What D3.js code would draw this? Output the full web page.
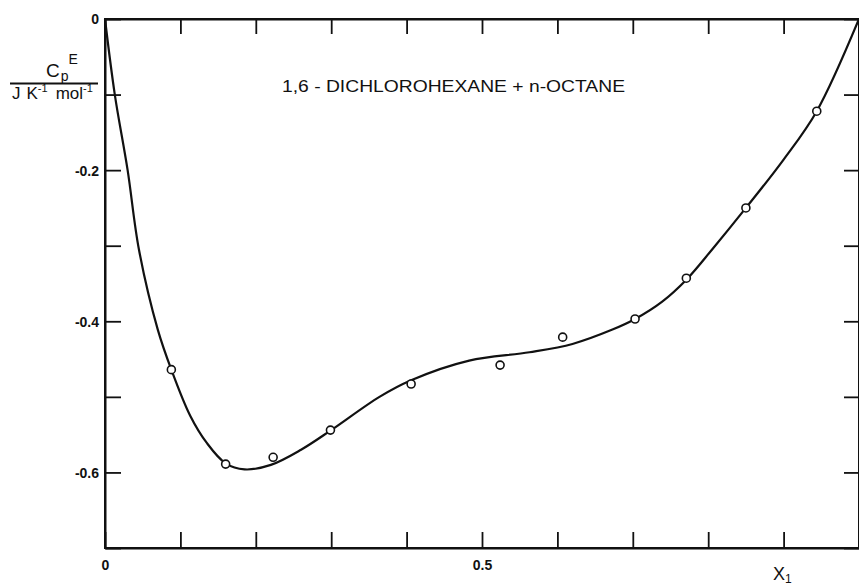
<!DOCTYPE html>
<html>
<head>
<meta charset="utf-8">
<script src="https://cdn.jsdelivr.net/npm/d3@7"></script>
<style>
  html, body { margin: 0; padding: 0; background: #fff; }
  svg { display: block; }
  text { font-family: "Liberation Sans Narrow", "Liberation Sans", Arial, sans-serif; fill: #111; }
</style>
</head>
<body>
<svg id="chart" width="859" height="585"></svg>
<script>
// ---- data ----
const titleText = "1,6 - DICHLOROHEXANE + n-OCTANE";
const xTickValues = [0, 0.1, 0.2, 0.3, 0.4, 0.5, 0.6, 0.7, 0.8, 0.9, 1.0];
const xTickLabels = {"0": "0", "0.5": "0.5"};
const yTickValues = [0, -0.1, -0.2, -0.3, -0.4, -0.5, -0.6, -0.7];
const yTickLabels = {"0": "0", "-0.2": "-0.2", "-0.4": "-0.4", "-0.6": "-0.6"};

// measured points (open circles)
const pointX = [0.088, 0.160, 0.223, 0.299, 0.406, 0.524, 0.607, 0.703, 0.771, 0.850, 0.944];
const pointY = [-0.464, -0.589, -0.580, -0.544, -0.483, -0.458, -0.421, -0.397, -0.343, -0.250, -0.122];

// smoothed fitted curve
const curveX = [0, 0.013, 0.030, 0.045, 0.070, 0.088, 0.113, 0.135, 0.160, 0.185, 0.220, 0.260, 0.300, 0.364, 0.406, 0.483, 0.563, 0.620, 0.673, 0.703, 0.739, 0.771, 0.806, 0.850, 0.900, 0.944, 1.0];
const curveY = [0, -0.10, -0.20, -0.305, -0.411, -0.464, -0.525, -0.561, -0.588, -0.596, -0.590, -0.570, -0.544, -0.500, -0.478, -0.452, -0.441, -0.430, -0.411, -0.397, -0.374, -0.345, -0.304, -0.250, -0.186, -0.122, 0];

// ---- layout ----
const svg = d3.select("#chart");
const x = d3.scaleLinear().domain([0, 1]).range([105, 859]);
const y = d3.scaleLinear().domain([0, -0.7]).range([19, 548]);

const fmtX = d => { const k = String(+d.toFixed(1)); return xTickLabels[k] || ""; };
const fmtY = d => { const k = String(+d.toFixed(1)); return yTickLabels[k] || ""; };

// Frame
svg.append("rect")
  .attr("x", x(0)).attr("y", y(0))
  .attr("width", x(1) - x(0)).attr("height", y(-0.7) - y(0))
  .attr("fill", "none").attr("stroke", "#111").attr("stroke-width", 2);

// Bottom axis (inward ticks)
const gB = svg.append("g").attr("transform", `translate(0,${y(-0.7)})`)
  .call(d3.axisBottom(x).tickValues(xTickValues).tickSize(-16).tickSizeOuter(0).tickPadding(8).tickFormat(fmtX));
// Top axis
const gT = svg.append("g").attr("transform", `translate(0,${y(0)})`)
  .call(d3.axisTop(x).tickValues(xTickValues).tickSize(-15).tickSizeOuter(0).tickFormat(""));
// Left axis
const gL = svg.append("g").attr("transform", `translate(${x(0)},0)`)
  .call(d3.axisLeft(y).tickValues(yTickValues).tickSize(-16).tickSizeOuter(0).tickPadding(6).tickFormat(fmtY));
// Right axis
const gR = svg.append("g").attr("transform", `translate(${x(1)},0)`)
  .call(d3.axisRight(y).tickValues(yTickValues).tickSize(-15).tickSizeOuter(0).tickFormat(""));

[gB, gT, gL, gR].forEach(g => {
  g.select(".domain").attr("stroke", "#111").attr("stroke-width", 2);
  g.selectAll(".tick line").attr("stroke", "#111").attr("stroke-width", 1.8);
  g.selectAll(".tick text").attr("font-size", 14).attr("font-weight", "bold")
    .attr("font-family", '"Liberation Sans Narrow", "Liberation Sans", Arial, sans-serif').attr("fill", "#111");
});
gB.selectAll(".tick text").attr("dy", "1em");
gL.selectAll(".tick text").attr("dy", "0.35em");

// Curve
const line = d3.line()
  .x(d => x(d[0])).y(d => y(d[1]))
  .curve(d3.curveCatmullRom.alpha(0.5));
svg.append("path")
  .datum(curveX.map((v, i) => [v, curveY[i]]))
  .attr("d", line)
  .attr("fill", "none").attr("stroke", "#111").attr("stroke-width", 2.2);

// Points
svg.append("g").selectAll("circle")
  .data(pointX.map((v, i) => [v, pointY[i]]))
  .join("circle")
  .attr("cx", d => x(d[0])).attr("cy", d => y(d[1]))
  .attr("r", 4).attr("fill", "#fff").attr("stroke", "#111").attr("stroke-width", 1.6);

// Title
svg.append("text")
  .attr("x", 282).attr("y", 92)
  .attr("font-size", 16)
  .attr("textLength", 343).attr("lengthAdjust", "spacingAndGlyphs")
  .text(titleText);

// Y-axis title: Cp^E / J K^-1 mol^-1
const yt = svg.append("g");
const num = yt.append("text").attr("x", 46).attr("y", 77).attr("font-size", 19);
num.append("tspan").text("C");
num.append("tspan").attr("font-size", 14).attr("dy", 4).attr("dx", 1).text("p");
num.append("tspan").attr("font-size", 14).attr("dy", -17).attr("dx", 0).text("E");
yt.append("line").attr("x1", 10).attr("x2", 98).attr("y1", 83.5).attr("y2", 83.5)
  .attr("stroke", "#111").attr("stroke-width", 1.8);
const den = yt.append("text").attr("x", 12).attr("y", 99).attr("font-size", 17);
den.append("tspan").text("J");
den.append("tspan").attr("dx", 6).text("K");
den.append("tspan").attr("font-size", 11).attr("dy", -7).text("-1");
den.append("tspan").attr("dy", 7).attr("dx", 8).text("mol");
den.append("tspan").attr("font-size", 11).attr("dy", -7).text("-1");

// X-axis title: X1
const xt = svg.append("text").attr("x", 773).attr("y", 580).attr("font-size", 18);
xt.append("tspan").text("X");
xt.append("tspan").attr("font-size", 12).attr("dy", 3).text("1");
</script>
</body>
</html>
